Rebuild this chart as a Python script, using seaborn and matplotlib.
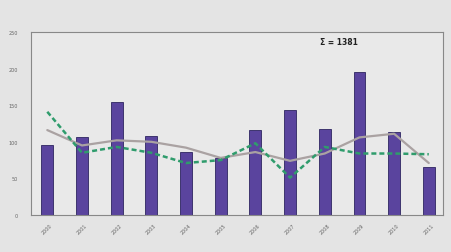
import pandas as pd
import seaborn as sns
import matplotlib.pyplot as plt

# values
years = ['2000', '2001', '2002', '2003', '2004', '2005',
         '2006', '2007', '2008', '2009', '2010', '2011']
counts = [95, 107, 154, 108, 86, 78, 116, 143, 118, 196, 114, 66]
avg_dashed = [141, 85, 93, 85, 71, 75, 98, 51, 93, 84, 84, 83]
trend = [116, 95, 102, 100, 92, 78, 86, 74, 84, 106, 111, 71]
total_label = 'Σ = 1381'

df = pd.DataFrame({'year': years, 'count': counts,
                   'avg': avg_dashed, 'trend': trend})
df['pos'] = range(len(df))

sns.set_style('white')
plt.rcParams['font.family'] = ['DejaVu Sans']

fig = plt.figure(figsize=(4.52, 2.53), dpi=100, facecolor='#e4e4e4')
ax = fig.add_axes([31 / 452, 1 - 216 / 253, 412 / 452, 183 / 253])
ax.set_facecolor('#e9e9e9')

sns.barplot(data=df, x='pos', y='count', color='#5a449e', width=0.34,
            edgecolor='#2e2560', linewidth=0.6, saturation=1, ax=ax)
sns.lineplot(data=df, x='pos', y='trend', color='#aaa2a2', linewidth=1.6, ax=ax)
sns.lineplot(data=df, x='pos', y='avg', color='#2f9c6c', linewidth=1.8,
             linestyle=(0, (2, 1.2)), ax=ax)

ax.set_xlim(-0.47, 11.41)
ax.set_ylim(0, 250)
ax.set_yticks([0, 50, 100, 150, 200, 250])
ax.set_xticks(range(len(years)))
ax.set_xticklabels(years, rotation=45, fontsize=3.5, color='#666666')
ax.tick_params(axis='y', labelsize=3.5, colors='#666666', length=2.5, width=0.5, pad=7)
ax.tick_params(axis='x', length=0, pad=5)
ax.set_xlabel('')
ax.set_ylabel('')
for s in ax.spines.values():
    s.set_color('#888888')
    s.set_linewidth(0.8)

ax.text(8.4, 237, total_label, fontsize=5.5, fontweight='bold',
        ha='center', va='center', color='#222222')

fig.savefig('out.png', dpi=100, facecolor=fig.get_facecolor())
